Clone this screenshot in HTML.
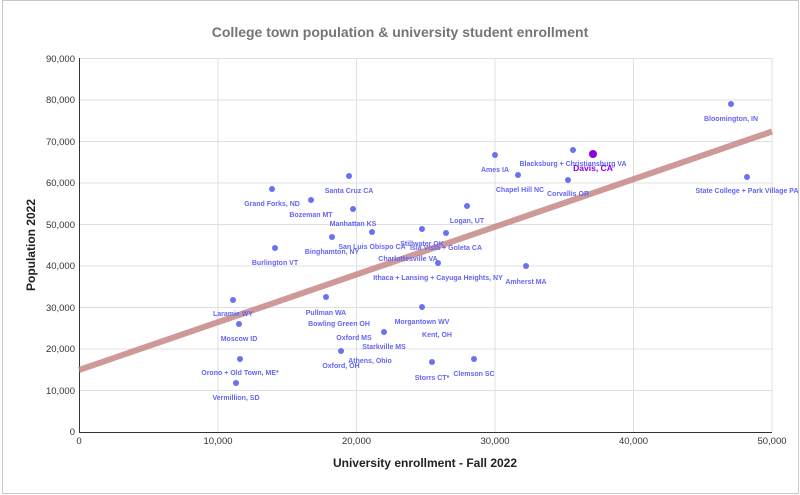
<!DOCTYPE html>
<html><head><meta charset="utf-8"><style>
html,body{margin:0;padding:0;background:#fff;width:800px;height:495px;overflow:hidden}
svg{display:block;font-family:"Liberation Sans",Arial,sans-serif}
.l{font-size:7px;font-weight:bold;fill:#6366f0;text-anchor:middle}
.t{font-size:9.5px;fill:#333}
</style></head><body>
<svg width="800" height="495" viewBox="0 0 800 495">
<rect x="2.5" y="0.5" width="796" height="493" fill="#fff" stroke="#c8c8c8"/>
<text x="400" y="37" text-anchor="middle" font-size="14" font-weight="bold" fill="#757575">College town population &amp; university student enrollment</text>
<g stroke="#e0e0e0" stroke-width="1">
<line x1="79" y1="58.5" x2="772" y2="58.5"/><line x1="79" y1="100" x2="772" y2="100"/>
<line x1="79" y1="141.5" x2="772" y2="141.5"/><line x1="79" y1="183" x2="772" y2="183"/>
<line x1="79" y1="224.5" x2="772" y2="224.5"/><line x1="79" y1="266" x2="772" y2="266"/>
<line x1="79" y1="307.5" x2="772" y2="307.5"/><line x1="79" y1="349" x2="772" y2="349"/>
<line x1="79" y1="390.5" x2="772" y2="390.5"/>
<line x1="218" y1="58" x2="218" y2="432"/><line x1="356.5" y1="58" x2="356.5" y2="432"/>
<line x1="495" y1="58" x2="495" y2="432"/><line x1="633.5" y1="58" x2="633.5" y2="432"/>
<line x1="772" y1="58" x2="772" y2="432"/>
</g>
<line x1="79.5" y1="58" x2="79.5" y2="432" stroke="#333"/>
<line x1="79" y1="432.5" x2="772" y2="432.5" stroke="#333"/>
<g class="t" text-anchor="end">
<text x="75" y="62">90,000</text><text x="75" y="103">80,000</text><text x="75" y="145">70,000</text>
<text x="75" y="186">60,000</text><text x="75" y="228">50,000</text><text x="75" y="269">40,000</text>
<text x="75" y="311">30,000</text><text x="75" y="352">20,000</text><text x="75" y="394">10,000</text>
<text x="75" y="435">0</text>
</g>
<g class="t" text-anchor="middle">
<text x="79" y="444">0</text><text x="218" y="444">10,000</text><text x="356.5" y="444">20,000</text>
<text x="495" y="444">30,000</text><text x="633.5" y="444">40,000</text><text x="772" y="444">50,000</text>
</g>
<text x="425" y="467" text-anchor="middle" font-size="12" font-weight="bold" fill="#222">University enrollment - Fall 2022</text>
<text transform="translate(35,245) rotate(-90)" text-anchor="middle" font-size="12" font-weight="bold" fill="#222">Population 2022</text>
<line x1="79" y1="370" x2="772" y2="131.5" stroke="#c27f80" stroke-opacity="0.8" stroke-width="6"/>
<g fill="#6b72f2">
<circle cx="349" cy="176" r="3"/><circle cx="272" cy="189" r="3"/><circle cx="311" cy="200" r="3"/>
<circle cx="353" cy="209" r="3"/><circle cx="495" cy="155" r="3"/><circle cx="518" cy="175" r="3"/>
<circle cx="467" cy="206" r="3"/><circle cx="372" cy="232" r="3"/><circle cx="422" cy="229" r="3"/>
<circle cx="446" cy="233" r="3"/><circle cx="332" cy="237" r="3"/><circle cx="275" cy="248" r="3"/>
<circle cx="438" cy="263" r="3"/><circle cx="526" cy="266" r="3"/><circle cx="233" cy="300" r="3"/>
<circle cx="326" cy="297" r="3"/><circle cx="239" cy="324" r="3"/><circle cx="422" cy="307" r="3"/>
<circle cx="384" cy="332" r="3"/><circle cx="240" cy="359" r="3"/><circle cx="341" cy="351" r="3"/>
<circle cx="432" cy="362" r="3"/><circle cx="474" cy="359" r="3"/><circle cx="236" cy="383" r="3"/>
<circle cx="731" cy="104" r="3"/><circle cx="573" cy="150" r="3"/><circle cx="568" cy="180" r="3"/>
<circle cx="747" cy="177" r="3"/>
</g>
<circle cx="593" cy="154" r="4" fill="#8a00e6"/>
<g class="l">
<text x="349" y="193">Santa Cruz CA</text><text x="272" y="206">Grand Forks, ND</text>
<text x="311" y="217">Bozeman MT</text><text x="353" y="226">Manhattan KS</text>
<text x="495" y="172">Ames IA</text><text x="520" y="192">Chapel Hill NC</text>
<text x="467" y="223">Logan, UT</text><text x="372" y="249">San Luis Obispo CA</text>
<text x="422" y="246">Stillwater OK</text><text x="446" y="250">Isla Vista + Goleta CA</text>
<text x="332" y="254">Binghamton, NY</text><text x="275" y="265">Burlington VT</text>
<text x="408" y="261">Charlottesville VA</text><text x="438" y="280">Ithaca + Lansing + Cayuga Heights, NY</text>
<text x="526" y="284">Amherst MA</text><text x="233" y="316">Laramie WY</text>
<text x="326" y="315">Pullman WA</text><text x="339" y="326">Bowling Green OH</text>
<text x="239" y="341">Moscow ID</text><text x="422" y="324">Morgantown WV</text>
<text x="354" y="340">Oxford MS</text><text x="437" y="337">Kent, OH</text>
<text x="384" y="349">Starkville MS</text><text x="240" y="375">Orono + Old Town, ME*</text>
<text x="341" y="368">Oxford, OH</text><text x="370" y="363">Athens, Ohio</text>
<text x="432" y="380">Storrs CT*</text><text x="474" y="376">Clemson SC</text>
<text x="236" y="400">Vermillion, SD</text><text x="731" y="121">Bloomington, IN</text>
<text x="573" y="166">Blacksburg + Christiansburg VA</text><text x="568" y="196">Corvallis OR</text>
<text x="747" y="193">State College + Park Village PA</text>
</g>
<text x="593" y="171" text-anchor="middle" font-size="8.5" font-weight="bold" fill="#8a00e6">Davis, CA</text>
</svg>
</body></html>
